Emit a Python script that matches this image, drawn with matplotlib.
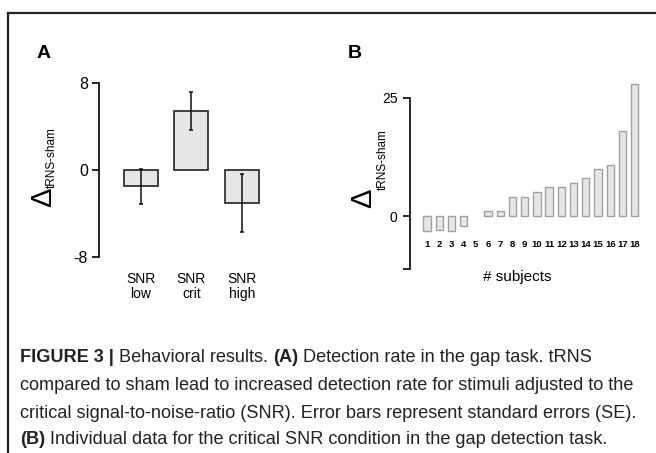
import matplotlib
matplotlib.use("Agg")
import matplotlib.pyplot as plt
from matplotlib import font_manager
import numpy as np

# panel A: mean difference (tRNS - sham) with SE
conds = ["SNR\nlow", "SNR\ncrit", "SNR\nhigh"]
means_a = [-1.5, 5.45, -3.05]
se_a = [1.6, 1.75, 2.65]

# panel B: individual subjects, critical SNR
subjects = list(range(1, 19))
vals_b = [-3.1, -3.0, -3.1, -2.05, 0.0, 1.0, 1.0, 4.0, 4.0, 5.0,
          6.1, 6.1, 6.9, 8.0, 10.0, 10.9, 18.1, 27.9]

caption = [
    [("FIGURE 3 | ", True), ("Behavioral results. ", False), ("(A)", True),
     (" Detection rate in the gap task. tRNS", False)],
    [("compared to sham lead to increased detection rate for stimuli adjusted to the", False)],
    [("critical signal-to-noise-ratio (SNR). Error bars represent standard errors (SE).", False)],
    [("(B)", True), (" Individual data for the critical SNR condition in the gap detection task.", False)],
]

names = {f.name for f in font_manager.fontManager.ttflist}
cap_font = "Liberation Sans Narrow" if "Liberation Sans Narrow" in names else "Liberation Sans"
plt.rcParams["font.family"] = ["Liberation Sans", "DejaVu Sans"]

W, H = 656, 453
fig = plt.figure(figsize=(W / 100, H / 100), dpi=100)


def px_axes(x0, y0, x1, y1):
    # pixel box (top-left origin) -> axes
    return fig.add_axes([x0 / W, 1 - y1 / H, (x1 - x0) / W, (y1 - y0) / H])


# border of the figure box
fig.add_artist(plt.Line2D([8 / W, 655 / W], [1 - 13 / H, 1 - 13 / H], color="#222222", lw=1.6))
fig.add_artist(plt.Line2D([8 / W, 8 / W], [1 - 13 / H, 0], color="#222222", lw=1.6))

# ---- panel A
axa = px_axes(99, 83, 267, 257)
x_a = np.arange(1, 4)
axa.bar(x_a, means_a, width=0.68, color="#e6e6e6", edgecolor="#222222", linewidth=1.2)
axa.errorbar(x_a, means_a, yerr=se_a, fmt="none", ecolor="#111111", elinewidth=1.1,
             capsize=1.5, capthick=1.1)
axa.set_xlim(0.17, 3.5)
axa.set_ylim(-8, 8)
for s in ["top", "right", "bottom"]:
    axa.spines[s].set_visible(False)
axa.spines["left"].set_linewidth(1.2)
axa.set_yticks([-8, 0, 8])
axa.set_yticklabels(["-8", "0", "8"], fontsize=11.5)
axa.tick_params(axis="y", length=5, width=1.2, pad=3)
axa.set_xticks(x_a)
axa.set_xticklabels(conds, fontsize=10, linespacing=1.05)
axa.tick_params(axis="x", length=0, pad=11)
axa.patch.set_visible(False)

fig.text(44 / W, 1 - 53 / H, "A", fontsize=14, fontweight="bold", ha="center", va="center")
fig.text(43 / W, 1 - 197 / H, "Δ", fontsize=21, rotation=90, ha="center", va="center")
fig.text(52 / W, 1 - 158 / H, "tRNS-sham", fontsize=8.5, rotation=90, ha="center", va="center")

# ---- panel B
axb = px_axes(410, 79, 642, 269)
edges = ["#a0a0a0" if v != 0 else "none" for v in vals_b]
axb.bar(subjects, vals_b, width=0.6, color="#e6e6e6", edgecolor=edges, linewidth=1.0)
axb.set_xlim(-0.39, 18.6)
axb.set_ylim(-11.2, 29)
for s in ["top", "right", "bottom"]:
    axb.spines[s].set_visible(False)
axb.spines["left"].set_bounds(-11.2, 25)
axb.spines["left"].set_linewidth(1.2)
axb.set_yticks([-11.2, 0, 25])
axb.set_yticklabels(["", "0", "25"], fontsize=10)
axb.tick_params(axis="y", length=5, width=1.2, pad=4)
axb.set_xticks([])
for s, v in zip(subjects, vals_b):
    axb.text(s, -6.1, str(s), fontsize=6.8, fontweight="bold", ha="center", va="center")
axb.patch.set_visible(False)

fig.text(355 / W, 1 - 53 / H, "B", fontsize=14, fontweight="bold", ha="center", va="center")
fig.text(363 / W, 1 - 198 / H, "Δ", fontsize=21, rotation=90, ha="center", va="center")
fig.text(383 / W, 1 - 160 / H, "tRNS-sham", fontsize=8.5, rotation=90, ha="center", va="center")
fig.text(517 / W, 1 - 277 / H, "# subjects", fontsize=11, ha="center", va="center")

# ---- caption, mixed bold segments drawn one after another
fig.canvas.draw()
renderer = fig.canvas.get_renderer()

probe = fig.text(0, 0, caption[1][0][0], family=cap_font, fontsize=12)
wpx = probe.get_window_extent(renderer).width
probe.remove()
cap_size = 12 * 616 / wpx

line_y = [357, 385, 413, 440]
for segs, yy in zip(caption, line_y):
    x = 20
    for txt, bold in segs:
        t = fig.text(x / W, 1 - yy / H, txt, family=cap_font, fontsize=cap_size,
                     fontweight="bold" if bold else "normal", color="#222222",
                     ha="left", va="center")
        x += t.get_window_extent(renderer).width

fig.savefig("out.png", dpi=100)
